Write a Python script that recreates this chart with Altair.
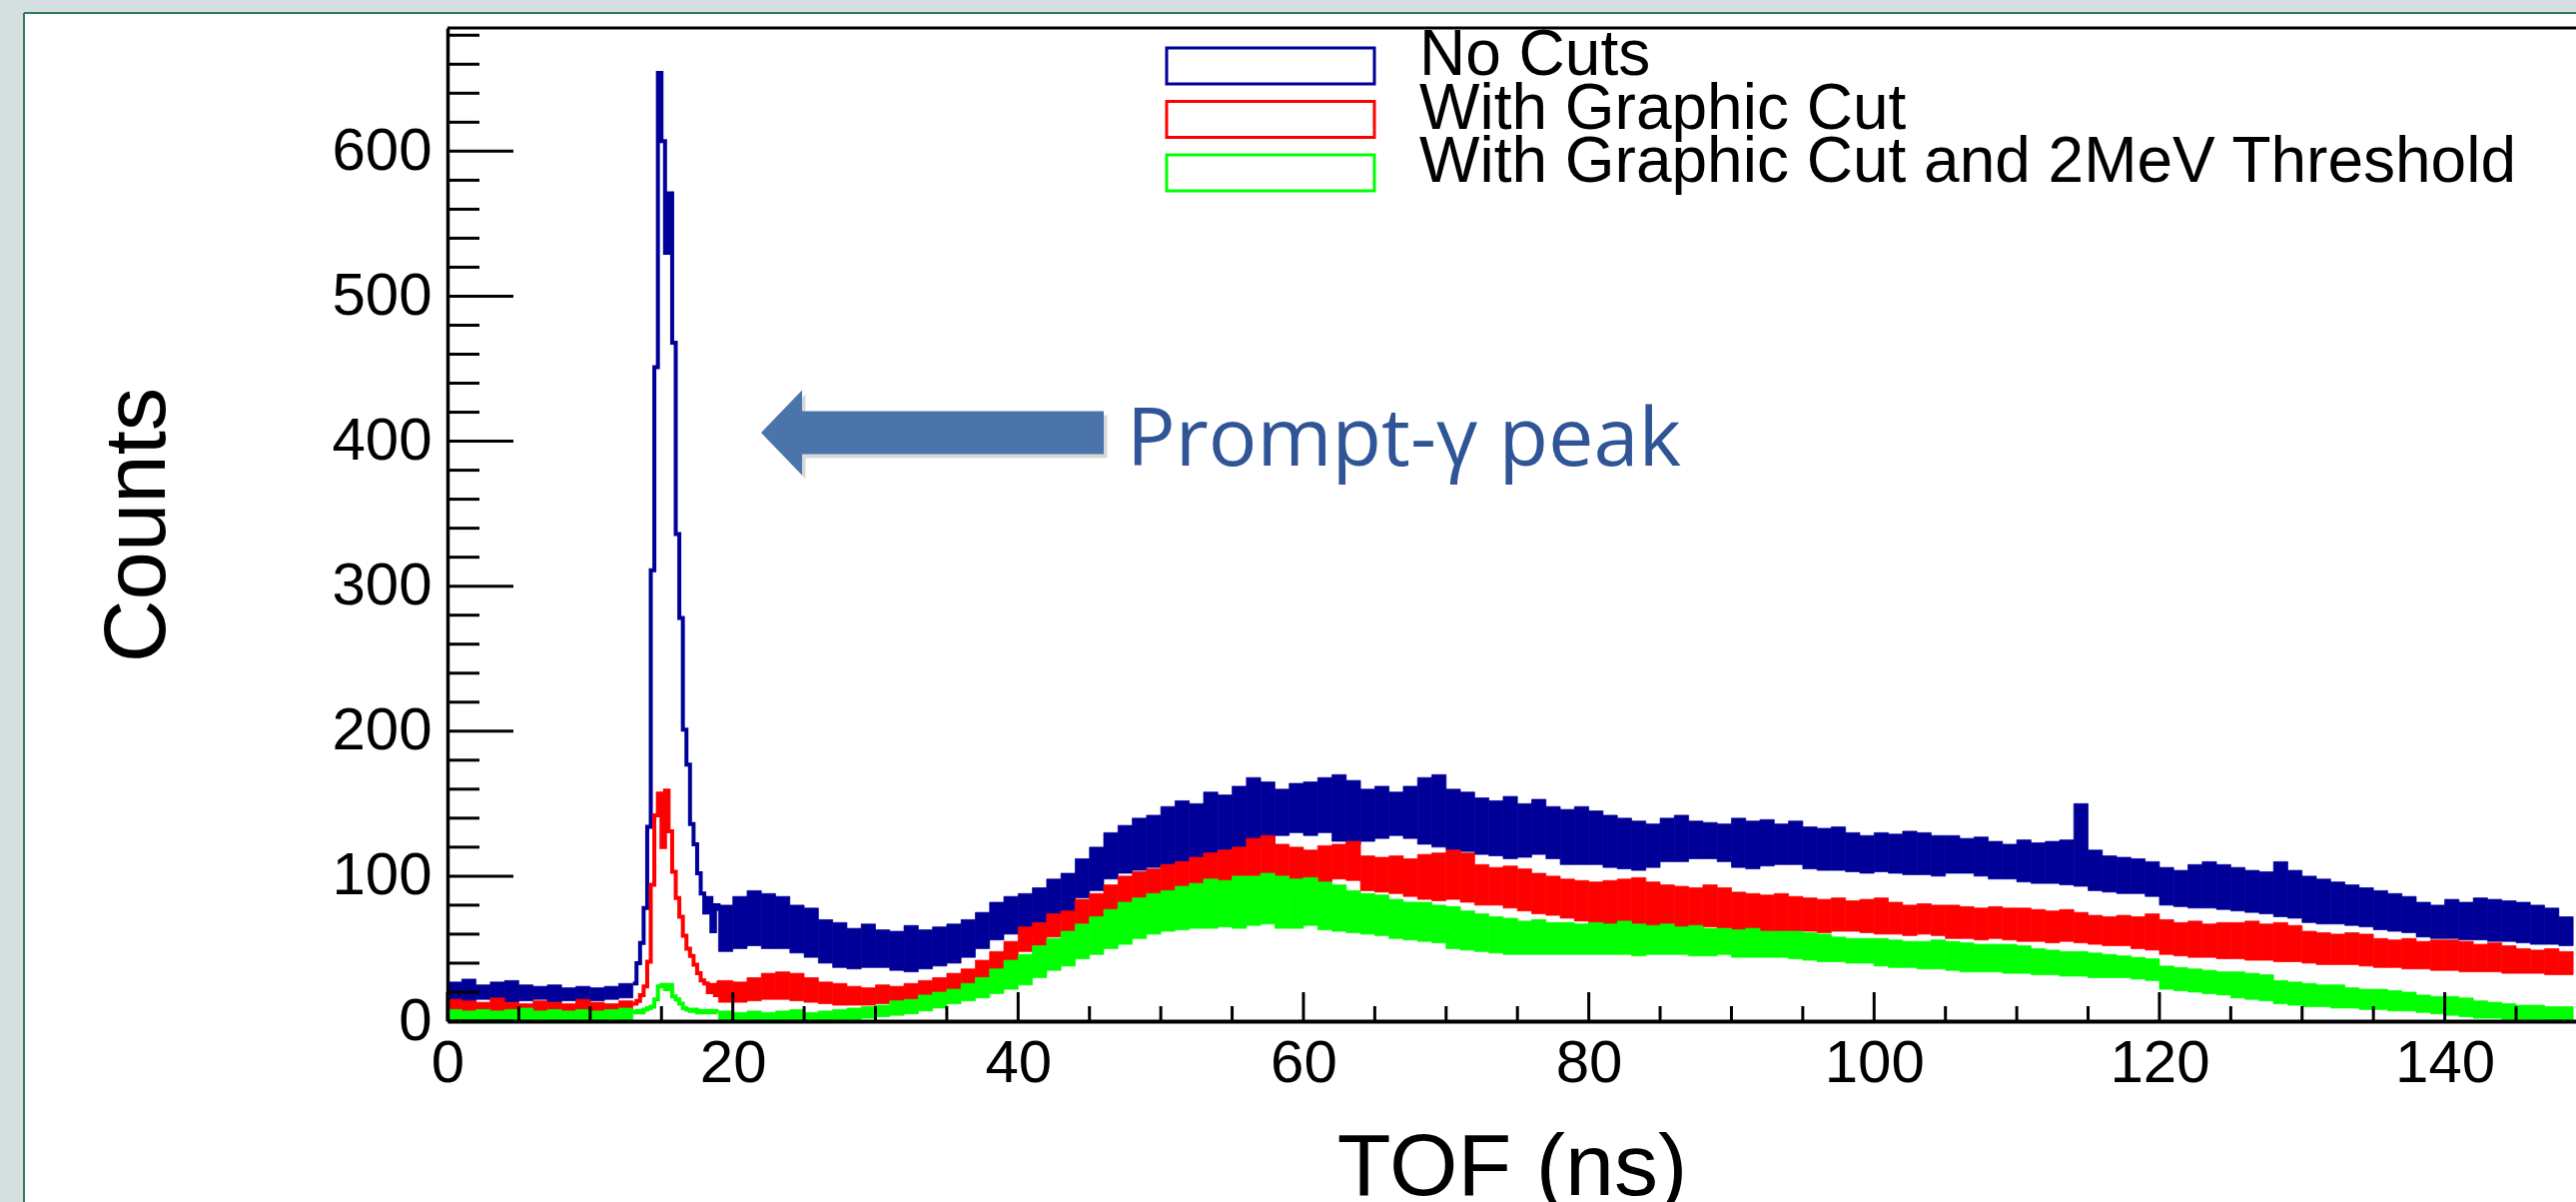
import altair as alt
import pandas as pd

# ---------------- data ----------------
SERIES = ["No Cuts", "With Graphic Cut", "With Graphic Cut and 2MeV Threshold"]
COLORS = ["#000099", "#ff0000", "#00ff00"]

# 1-ns bins outside the prompt peak: start edges of bins
BAND_T = list(range(0, 13)) + list(range(19, 149))

blue_lo = [14, 13, 15, 14, 13, 14, 15, 13, 14, 13, 14, 15, 16,
           48, 50, 52, 50, 50, 47, 44, 40, 37, 36, 37, 37, 35, 34, 36, 38, 40, 44, 50, 56, 60,
           60, 64, 70, 75, 85, 90, 98, 102, 104, 106, 108, 110, 112, 115, 118, 120, 122, 122, 128, 130,
           128, 130, 124, 122, 124, 126, 128, 126, 122, 120, 118, 117, 115, 114, 112, 113, 115, 112, 108, 108,
           108, 106, 105, 104, 106, 110, 110, 112, 112, 110, 106, 105, 107, 108, 108, 105, 104, 104, 103, 102,
           103, 102, 101, 101, 100, 102, 102, 100, 98, 98, 96, 95, 95, 94, 93, 90, 89, 88, 88, 86,
           80, 79, 78, 78, 77, 76, 75, 74, 72, 71, 68, 67, 67, 66, 65, 63, 62, 61, 58, 57,
           57, 56, 56, 55, 55, 54, 53, 53, 52]
blue_hi = [27, 29, 25, 27, 28, 25, 24, 25, 23, 24, 23, 24, 26,
           80, 86, 90, 88, 86, 80, 78, 70, 68, 64, 67, 63, 62, 66, 63, 65, 67, 70, 75, 82, 86,
           88, 92, 98, 102, 112, 120, 130, 135, 140, 142, 148, 152, 150, 158, 156, 162, 168, 165, 160, 164,
           165, 168, 170, 166, 160, 162, 158, 162, 168, 170, 160, 158, 154, 152, 155, 150, 153, 148, 146, 148,
           145, 142, 140, 138, 136, 140, 142, 138, 137, 136, 140, 138, 139, 136, 138, 134, 133, 134, 130, 128,
           130, 129, 131, 130, 128, 128, 126, 127, 124, 122, 125, 123, 124, 125, 150, 118, 114, 113, 112, 110,
           106, 104, 108, 110, 108, 106, 104, 103, 110, 104, 100, 98, 96, 94, 92, 90, 88, 86, 82, 80,
           84, 82, 85, 84, 83, 82, 80, 78, 72]

red_lo = [6, 5, 6, 5, 6, 5, 6, 6, 5, 6, 5, 6, 7,
          13, 13, 14, 15, 15, 14, 13, 12, 11, 11, 11, 12, 12, 13, 15, 17, 20, 24, 30, 35, 40,
          48, 52, 58, 62, 66, 70, 76, 80, 82, 84, 85, 86, 90, 92, 94, 94, 98, 99, 94, 92,
          96, 95, 98, 97, 90, 89, 88, 86, 84, 83, 84, 82, 80, 80, 78, 76, 74, 73, 71, 69,
          65, 64, 64, 65, 64, 64, 63, 64, 65, 64, 62, 62, 61, 62, 62, 62, 61, 62, 62, 61,
          60, 60, 59, 60, 59, 57, 57, 56, 57, 56, 55, 55, 54, 55, 54, 53, 52, 52, 50, 49,
          46, 45, 44, 44, 43, 43, 42, 42, 41, 41, 40, 39, 39, 39, 38, 37, 37, 36, 36, 35,
          35, 34, 34, 34, 33, 33, 33, 32, 32]
red_hi = [15, 14, 13, 16, 13, 12, 14, 13, 12, 15, 13, 12, 14,
          28, 27, 30, 33, 34, 33, 30, 27, 26, 24, 23, 25, 24, 26, 28, 30, 33, 36, 42, 48, 55,
          65, 68, 74, 76, 84, 88, 94, 100, 103, 105, 108, 110, 113, 116, 118, 120, 126, 128, 122, 120,
          118, 121, 122, 124, 114, 113, 114, 112, 115, 116, 118, 116, 108, 106, 107, 105, 102, 100, 98, 97,
          96, 97, 98, 99, 96, 94, 93, 92, 94, 92, 89, 88, 87, 88, 86, 85, 84, 85, 83, 84,
          85, 82, 80, 81, 80, 80, 79, 78, 79, 78, 78, 77, 76, 77, 75, 73, 72, 73, 72, 74,
          70, 68, 69, 67, 68, 68, 69, 67, 68, 66, 62, 61, 60, 61, 60, 57, 56, 57, 55, 56,
          56, 55, 53, 54, 52, 50, 49, 50, 48]

green_lo = [0, 0, 0, 0, 0, 0, 0, 0, 0, 0, 0, 0, 0,
            0, 0, 0, 0, 0, 0, 0, 0, 1, 1, 2, 3, 4, 5, 7, 9, 12, 14, 16, 19, 22,
            25, 30, 35, 38, 43, 46, 50, 53, 57, 60, 62, 63, 64, 64, 65, 64, 66, 67, 64, 64,
            66, 63, 62, 61, 60, 59, 57, 56, 55, 54, 50, 49, 48, 47, 46, 46, 46, 46, 46, 46,
            46, 46, 46, 45, 46, 46, 46, 45, 45, 46, 44, 44, 44, 44, 43, 42, 41, 41, 40, 40,
            38, 37, 37, 36, 36, 35, 34, 34, 34, 33, 33, 32, 32, 31, 31, 30, 30, 30, 29, 28,
            22, 21, 20, 19, 18, 16, 15, 14, 12, 11, 10, 10, 9, 9, 8, 8, 7, 7, 6, 5,
            4, 3, 2, 2, 1, 1, 1, 0, 0]
green_hi = [8, 7, 8, 7, 8, 9, 7, 8, 7, 8, 7, 8, 9,
            7, 6, 7, 6, 7, 8, 6, 7, 8, 9, 10, 11, 14, 15, 18, 20, 22, 26, 30, 36, 42,
            46, 52, 57, 62, 67, 72, 77, 82, 85, 88, 90, 93, 95, 98, 97, 100, 100, 102, 100, 98,
            99, 96, 94, 90, 88, 87, 84, 82, 82, 80, 79, 76, 74, 72, 71, 69, 70, 68, 68, 67,
            68, 67, 69, 67, 66, 67, 65, 66, 64, 64, 63, 64, 62, 62, 62, 61, 60, 58, 57, 57,
            57, 56, 55, 55, 56, 55, 54, 53, 53, 53, 52, 50, 49, 48, 48, 47, 46, 45, 44, 43,
            38, 37, 36, 35, 34, 34, 33, 32, 28, 27, 26, 25, 25, 23, 22, 22, 21, 20, 18, 17,
            17, 16, 14, 13, 12, 11, 11, 10, 10]

# prompt-gamma peak, fine bins (0.25 ns)
PEAK_T = [13.0, 13.25, 13.5, 13.75, 14.0, 14.25, 14.5, 14.75, 15.0, 15.25, 15.5, 15.75,
          16.0, 16.25, 16.5, 16.75, 17.0, 17.25, 17.5, 17.75, 18.0, 18.25, 18.5, 18.75, 19.0]
blue_peak = [26, 40, 54, 78, 134, 311, 451, 654, 607, 530, 571, 468,
             336, 278, 201, 177, 136, 122, 102, 88, 75, 85, 62, 80, 76]
red_peak = [12, 14, 18, 24, 41, 94, 142, 157, 120, 159, 131, 103,
            85, 72, 59, 50, 45, 39, 33, 28, 26, 20, 25, 18, 28]
green_peak = [6, 7, 6, 8, 9, 10, 15, 24, 25, 22, 25, 17,
              15, 12, 9, 8, 7, 8, 6, 7, 6, 7, 6, 7, 7]

X_TICKS_MAJOR = [0, 20, 40, 60, 80, 100, 120, 140]
X_TICKS_MINOR = [5, 10, 15, 25, 30, 35, 45, 50, 55, 65, 70, 75, 85, 90, 95,
                 105, 110, 115, 125, 130, 135, 145]
Y_TICKS_MAJOR = [0, 100, 200, 300, 400, 500, 600]
Y_TICKS_MINOR = [20, 40, 60, 80, 120, 140, 160, 180, 220, 240, 260, 280, 320, 340, 360, 380,
                 420, 440, 460, 480, 520, 540, 560, 580, 620, 640, 660, 680]

ANNOTATION = "Prompt-\u03b3 peak"

# ---------------- tables ----------------
band_rows = []
for name, lo, hi in zip(SERIES, [blue_lo, red_lo, green_lo], [blue_hi, red_hi, green_hi]):
    for t, a, b in zip(BAND_T, lo, hi):
        band_rows.append({"t": t, "lo": a, "hi": b, "series": name})
band_df = pd.DataFrame(band_rows)

peak_rows = []
for name, vals in zip(SERIES, [blue_peak, red_peak, green_peak]):
    for t, v in zip(PEAK_T, vals):
        peak_rows.append({"t": t, "lo": v, "series": name})
peak_df = pd.DataFrame(peak_rows)

# ---------------- layout ----------------
W, H = 2131, 994
X_MAX, Y_MAX = 149.2, 685
FONT = "Liberation Sans"
SIDE = "#d5dfdf"
EDGE = "#2e7d5b"

x_scale = alt.Scale(domain=[0, X_MAX], nice=False, zero=False)
y_scale = alt.Scale(domain=[0, Y_MAX], nice=False)
c_scale = alt.Scale(domain=SERIES, range=COLORS)

x_axis = alt.Axis(values=X_TICKS_MAJOR, title="TOF (ns)", ticks=False, grid=False,
                  labelFontSize=60, labelFont=FONT, labelColor="black", labelPadding=13,
                  labelFlush=False, labelOverlap=False, domainColor="black", domainWidth=4,
                  titleFontSize=88, titleFont=FONT, titleFontWeight="normal",
                  titleColor="black", titlePadding=31, zindex=1)
y_axis = alt.Axis(values=Y_TICKS_MAJOR, title="Counts", ticks=False, grid=False,
                  labelFontSize=60, labelFont=FONT, labelColor="black", labelPadding=16,
                  labelFlush=False, labelOverlap=False, domainColor="black", domainWidth=3.5,
                  titleFontSize=87, titleFont=FONT, titleFontWeight="normal",
                  titleColor="black", titlePadding=149, zindex=1)

one = pd.DataFrame({"k": [0]})

# slide margins (grey strips with a thin green edge)
strip_top = alt.Chart(one).mark_rect(fill=SIDE, strokeWidth=0).encode(
    x=alt.value(-448), x2=alt.value(W), y=alt.value(-28), y2=alt.value(-15))
strip_left = alt.Chart(one).mark_rect(fill=SIDE, strokeWidth=0).encode(
    x=alt.value(-448), x2=alt.value(-424), y=alt.value(-28), y2=alt.value(H + 181))
edge_top = alt.Chart(one).mark_rule(color=EDGE, strokeWidth=2).encode(
    x=alt.value(-424), x2=alt.value(W), y=alt.value(-15))
edge_left = alt.Chart(one).mark_rule(color=EDGE, strokeWidth=2).encode(
    x=alt.value(-424), y=alt.value(-15), y2=alt.value(H + 181))

bands = alt.Chart(band_df).transform_calculate(t2="datum.t + 1").mark_rect(strokeWidth=0.7).encode(
    x=alt.X("t:Q", scale=x_scale, axis=x_axis),
    x2="t2:Q",
    y=alt.Y("lo:Q", scale=y_scale, axis=y_axis),
    y2="hi:Q",
    color=alt.Color("series:N", scale=c_scale, legend=None),
    stroke=alt.Stroke("series:N", scale=c_scale, legend=None),
)

peaks = alt.Chart(peak_df).mark_line(interpolate="step-after", strokeWidth=4).encode(
    x=alt.X("t:Q", scale=x_scale, axis=x_axis),
    y=alt.Y("lo:Q", scale=y_scale, axis=y_axis),
    color=alt.Color("series:N", scale=c_scale, legend=None),
    detail="series:N",
)

def xticks(vals, length):
    return alt.Chart(pd.DataFrame({"t": vals})).mark_rule(color="black", strokeWidth=3).encode(
        x=alt.X("t:Q", scale=x_scale, axis=x_axis), y=alt.value(H), y2=alt.value(H - length))

def yticks(vals, length):
    return alt.Chart(pd.DataFrame({"lo": vals})).mark_rule(color="black", strokeWidth=3).encode(
        y=alt.Y("lo:Q", scale=y_scale, axis=y_axis), x=alt.value(0), x2=alt.value(length))

top_frame = alt.Chart(one).mark_rule(color="black", strokeWidth=3).encode(
    x=alt.value(0), x2=alt.value(W), y=alt.value(0))

legend_layers = []
for i, (name, col) in enumerate(zip(SERIES, COLORS)):
    y0 = 20 + 53.5 * i
    legend_layers.append(
        alt.Chart(one).mark_rect(fill="white", stroke=col, strokeWidth=3).encode(
            x=alt.value(720), x2=alt.value(928), y=alt.value(y0), y2=alt.value(y0 + 36)))
    legend_layers.append(
        alt.Chart(pd.DataFrame({"label": [name]})).mark_text(
            align="left", baseline="alphabetic", font=FONT, fontSize=64, color="black").encode(
            x=alt.value(973), y=alt.value(47 + 53.5 * i), text="label:N"))

ARROW = "M 1 -0.125 L -0.761 -0.125 L -0.761 -0.248 L -1 0 L -0.761 0.248 L -0.761 0.125 L 1 0.125 Z"
arrow_shadow = alt.Chart(one).mark_point(shape=ARROW, size=117649, filled=True, color="#7f7f7f",
                                         opacity=0.3, strokeWidth=0).encode(
    x=alt.value(489), y=alt.value(409))
arrow = alt.Chart(one).mark_point(shape=ARROW, size=117649, filled=True, color="#4a74aa",
                                  opacity=1, strokeWidth=0).encode(
    x=alt.value(485.5), y=alt.value(405))
note = alt.Chart(pd.DataFrame({"label": [ANNOTATION]})).mark_text(
    align="left", baseline="alphabetic", font="Open Sans", fontSize=81, color="#2f5597").encode(
    x=alt.value(680), y=alt.value(438), text="label:N")

chart = alt.layer(
    strip_top, strip_left, edge_top, edge_left, bands, peaks,
    xticks(X_TICKS_MAJOR, 29), xticks(X_TICKS_MINOR, 15),
    yticks(Y_TICKS_MAJOR, 66), yticks(Y_TICKS_MINOR, 32),
    top_frame, *legend_layers, arrow_shadow, arrow, note,
).properties(
    width=W, height=H,
    padding={"left": 448, "top": 28, "right": 0, "bottom": 181},
    autosize=alt.AutoSizeParams(type="none"),
).configure(background="white").configure_view(stroke=None)

chart.save("out.html", embed_options={"renderer": "svg", "actions": False})
